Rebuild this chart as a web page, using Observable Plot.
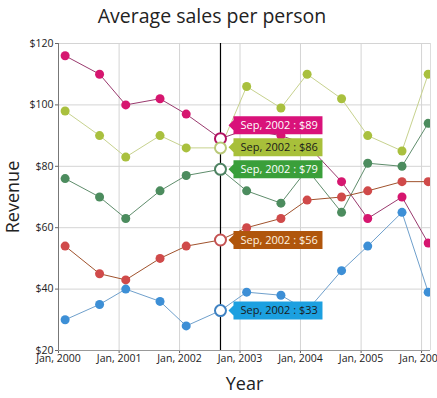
<!DOCTYPE html>
<html><head><meta charset="utf-8">
<script src="https://cdn.jsdelivr.net/npm/d3@7"></script>
<script src="https://cdn.jsdelivr.net/npm/@observablehq/plot@0.6"></script>
<style>
body{margin:0;background:#fff;font-family:"Open Sans",sans-serif;}
#title{height:32px;line-height:31px;font-size:19.5px;text-align:center;padding-right:13px;color:#222;}
</style></head><body>
<div id="title">Average sales per person</div>
<div id="chart"></div>
<script>
// ---- data ----
const dates = ["2000-02-10","2000-09-05","2001-02-10","2001-09-05","2002-02-10","2002-09-05",
  "2003-02-10","2003-09-05","2004-02-10","2004-09-05","2005-02-10","2005-09-05","2006-02-10"];
const seriesNames = ["Series A","Series B","Series C","Series D","Series E"];
const seriesA = [116,110,100,102,97,89,92,90,87,75,63,70,55];
const seriesB = [98,90,83,90,86,86,106,99,110,102,90,85,110];
const seriesC = [76,70,63,72,77,79,72,68,79,65,81,80,94];
const seriesD = [54,45,43,50,54,56,60,63,69,70,72,75,75];
const seriesE = [30,35,40,36,28,33,39,38,33,46,54,65,39];
const yTicks = [20,40,60,80,100,120];
const xTickYears = ["2000","2001","2002","2003","2004","2005","2006"];
const hoverIndex = 5;

// ---- styles ----
const dotColors   = ["#d6166f","#a9c03e","#4c8c5e","#d04a4a","#3d8fd6"];
const lineColors  = ["#9a3a6e","#c7d28e","#5f8d6c","#a0522d","#6fa0cc"];
const ringColors  = ["#b01060","#b9c878","#4e8262","#c45252","#3f82c2"];
const tipColors   = ["#d9127a","#a8c03a","#3a9f3a","#b0560c","#1ca0e0"];
const tipText     = ["#ffffff","#1a1a1a","#ffffff","#fff4e0","#1a1a1a"];

const allSeries = [seriesA, seriesB, seriesC, seriesD, seriesE];
const parse = d3.utcParse("%Y-%m-%d");
const rows = allSeries.flatMap((vals, s) => vals.map((v, i) => ({
  series: seriesNames[s], date: parse(dates[i]), value: v,
  dot: dotColors[s], line: lineColors[s]
})));

const hoverDate = parse(dates[hoverIndex]);
const fmt = d3.utcFormat("%b, %Y");
let tips = allSeries.map((vals, s) => ({
  date: hoverDate, value: vals[hoverIndex], ring: ringColors[s],
  fill: tipColors[s], tcolor: tipText[s],
  label: `${fmt(hoverDate)} : $${vals[hoverIndex]}`
}));
// simple stacking so tooltips don't overlap
const sorted = [...tips].sort((a, b) => a.value - b.value);
let prev = -Infinity;
for (const t of sorted) { t.ly = Math.max(t.value, prev + 7.2); prev = t.ly; }

// tooltip callout shape (box with a small left pointer), relative to anchor point
const calloutSymbol = {
  draw(ctx) {
    ctx.moveTo(8, 0); ctx.lineTo(13, -5); ctx.lineTo(13, -9);
    ctx.lineTo(102, -9); ctx.lineTo(102, 9); ctx.lineTo(13, 9);
    ctx.lineTo(13, 5); ctx.closePath();
  }
};

const xTicks = xTickYears.map(y => parse(y + "-01-01"));
const xDomain = [parse("2000-01-01"), parse("2006-02-24")];

const chart = Plot.plot({
  width: 437, height: 366,
  marginTop: 11, marginBottom: 48, marginLeft: 58, marginRight: 7,
  style: {fontFamily: "'Open Sans', sans-serif", fontSize: "10.5px", color: "#222", background: "#fff"},
  x: {type: "utc", domain: xDomain},
  y: {domain: [20, 120]},
  color: {type: "identity"},
  marks: [
    Plot.gridX(xTicks, {stroke: "#d4d4d4", strokeOpacity: 1}),
    Plot.gridY(yTicks, {stroke: "#d4d4d4", strokeOpacity: 1}),
    Plot.axisX({ticks: xTicks, tickFormat: d3.utcFormat("%b, %Y"), tickSize: 3, tickPadding: 1, label: null, stroke: "#666"}),
    Plot.axisY({ticks: yTicks, tickFormat: d => "$" + d, tickSize: 3, tickPadding: 2, label: null, stroke: "#666"}),
    Plot.ruleX([xDomain[0]], {stroke: "#777"}),
    Plot.ruleX([xDomain[1]], {stroke: "#ddd"}),
    Plot.ruleY([20], {stroke: "#999"}),
    Plot.line(rows, {x: "date", y: "value", z: "series", stroke: "line", strokeWidth: 1, clip: true}),
    Plot.dot(rows, {x: "date", y: "value", fill: "dot", r: 4.5, clip: true}),
    Plot.ruleX([hoverDate], {stroke: "#000", strokeWidth: 1.2}),
    Plot.dot(tips, {x: "date", y: "value", r: 5.5, fill: "white", stroke: "ring", strokeWidth: 2}),
    Plot.dot(tips, {x: "date", y: "ly", symbol: calloutSymbol, r: 10, fill: "fill"}),
    Plot.text(tips, {x: "date", y: "ly", text: "label", fill: "tcolor", dx: 20, textAnchor: "start", lineAnchor: "middle", fontSize: 11}),
    Plot.text(["Year"], {frameAnchor: "bottom", dy: 34, lineAnchor: "middle", fontSize: 18, fill: "#222"}),
    Plot.text(["Revenue"], {frameAnchor: "left", dx: -45, rotate: -90, textAnchor: "middle", lineAnchor: "middle", fontSize: 18, fill: "#222"})
  ]
});
document.getElementById("chart").append(chart);
</script>
</body></html>
